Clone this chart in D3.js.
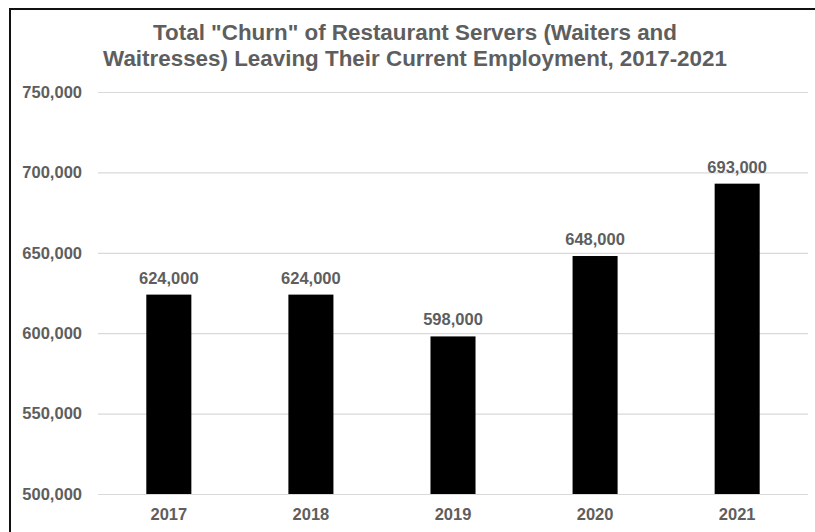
<!DOCTYPE html>
<html>
<head>
<meta charset="utf-8">
<script src="https://cdn.jsdelivr.net/npm/d3@7"></script>
<style>
  html, body { margin: 0; padding: 0; background: #fff; }
  svg { display: block; }
  text { font-family: "Liberation Sans", Arial, sans-serif; font-weight: bold; }
</style>
</head>
<body>
<svg id="chart" width="815" height="532"></svg>
<script>
// Data
const years = ["2017", "2018", "2019", "2020", "2021"];
const churn = [624000, 624000, 598000, 648000, 693000];
const yTicks = [500000, 550000, 600000, 650000, 700000, 750000];
const titleLines = [
  'Total "Churn" of Restaurant Servers (Waiters and',
  'Waitresses) Leaving Their Current Employment, 2017-2021'
];

const W = 815, H = 532;
const margin = { top: 92, right: 7, bottom: 38, left: 98 };
const textColor = "#5e5e5e";

const svg = d3.select("#chart");

// Outer frame (left and top edges visible)
svg.append("path")
  .attr("d", `M10,${H} L10,9 L${W},9`)
  .attr("fill", "none")
  .attr("stroke", "#111")
  .attr("stroke-width", 2);

const x = d3.scaleBand()
  .domain(years)
  .range([margin.left, W - margin.right])
  .paddingInner(0.683)
  .paddingOuter(0.34);

const y = d3.scaleLinear()
  .domain([500000, 750000])
  .range([H - margin.bottom, margin.top]);

// Title
svg.append("g")
  .selectAll("text")
  .data(titleLines)
  .join("text")
  .attr("x", 415)
  .attr("y", (d, i) => 40 + i * 26)
  .attr("text-anchor", "middle")
  .attr("font-size", 22.4)
  .attr("fill", textColor)
  .text(d => d);

// Gridlines + y labels
const yAxis = d3.axisLeft(y)
  .tickValues(yTicks)
  .tickSize(-(W - margin.right - margin.left))
  .tickPadding(16)
  .tickFormat(d3.format(","));

const gy = svg.append("g")
  .attr("transform", `translate(${margin.left},0)`)
  .call(yAxis);
gy.select(".domain").remove();
gy.selectAll(".tick line").attr("stroke", "#d9d9d9").attr("stroke-width", 1.2);
gy.selectAll(".tick text")
  .attr("font-size", 16.5)
  .attr("font-family", "'Liberation Sans', Arial, sans-serif")
  .attr("font-weight", "bold")
  .attr("fill", textColor);

// Bars
svg.append("g")
  .selectAll("rect")
  .data(years)
  .join("rect")
  .attr("x", d => x(d))
  .attr("width", x.bandwidth())
  .attr("y", (d, i) => y(churn[i]))
  .attr("height", (d, i) => y(500000) - y(churn[i]))
  .attr("fill", "#000");

// Value labels
svg.append("g")
  .selectAll("text")
  .data(years)
  .join("text")
  .attr("x", d => x(d) + x.bandwidth() / 2)
  .attr("y", (d, i) => y(churn[i]) - 11)
  .attr("text-anchor", "middle")
  .attr("font-size", 16.5)
  .attr("fill", textColor)
  .text((d, i) => d3.format(",")(churn[i]));

// X axis labels
const xAxis = d3.axisBottom(x).tickSize(0).tickPadding(14);
const gx = svg.append("g")
  .attr("transform", `translate(0,${H - margin.bottom})`)
  .call(xAxis);
gx.select(".domain").remove();
gx.selectAll(".tick text")
  .attr("font-size", 16.5)
  .attr("font-family", "'Liberation Sans', Arial, sans-serif")
  .attr("font-weight", "bold")
  .attr("fill", textColor);
</script>
</body>
</html>
